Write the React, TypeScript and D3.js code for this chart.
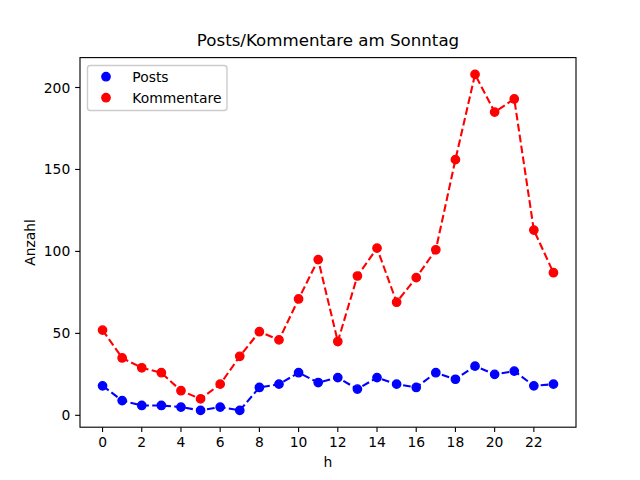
import React from "react";
import * as d3 from "d3";

const hours: number[] = Array.from({ length: 24 }, (_, i) => i);
const posts: number[] = [18, 9, 6, 6, 5, 3, 5, 3, 17, 19, 26, 20, 23, 16, 23, 19, 17, 26, 22, 30, 25, 27, 18, 19];
const kommentare: number[] = [52, 35, 29, 26, 15, 10, 19, 36, 51, 46, 71, 95, 45, 85, 102, 69, 84, 101, 156, 208, 185, 193, 113, 87];
const xTicks: number[] = [0, 2, 4, 6, 8, 10, 12, 14, 16, 18, 20, 22];
const yTicks: number[] = [0, 50, 100, 150, 200];
const seriesNames: string[] = ["Posts", "Kommentare"];
const seriesColors: string[] = ["#0000ff", "#ff0000"];
const title = "Posts/Kommentare am Sonntag";
const xLabel = "h";
const yLabel = "Anzahl";

const W = 640, H = 480;
const L = 80, R = 576, T = 57.6, B = 427.2;
const FONT = "DejaVu Sans, sans-serif";
const PT = 100 / 72;

export default function App() {
  const allY = [...posts, ...kommentare];
  const yMin = d3.min(allY)!, yMax = d3.max(allY)!;
  const yPad = (yMax - yMin) * 0.05;
  const xMin = d3.min(hours)!, xMax = d3.max(hours)!;
  const xPad = (xMax - xMin) * 0.05;
  const x = d3.scaleLinear().domain([xMin - xPad, xMax + xPad]).range([L, R]);
  const y = d3.scaleLinear().domain([yMin - yPad, yMax + yPad]).range([B, T]);
  const line = d3.line<number>().x((_, i) => x(hours[i])).y((d) => y(d));
  const series = [posts, kommentare];
  const tickLen = 3.5 * PT;
  const tickPad = 3.5 * PT;
  const fs = 10 * PT;
  const lw = 1.5 * PT;
  const mr = 3 * PT;

  return (
    <svg width={W} height={H} style={{ position: "absolute", left: 0, top: 0, background: "#fff" }} fontFamily={FONT}>
      <rect x={0} y={0} width={W} height={H} fill="#fff" />
      {series.map((s, k) => (
        <g key={k}>
          <path d={line(s)!} fill="none" stroke={seriesColors[k]} strokeWidth={lw} strokeDasharray={`${3.7 * lw} ${1.6 * lw}`} />
          {s.map((v, i) => (
            <circle key={i} cx={x(hours[i])} cy={y(v)} r={mr} fill={seriesColors[k]} stroke={seriesColors[k]} strokeWidth={PT} />
          ))}
        </g>
      ))}
      <rect x={L} y={T} width={R - L} height={B - T} fill="none" stroke="#000" strokeWidth={0.8 * PT} />
      {xTicks.map((t) => (
        <g key={t}>
          <line x1={x(t)} x2={x(t)} y1={B} y2={B + tickLen} stroke="#000" strokeWidth={0.8 * PT} />
          <text x={x(t)} y={B + tickLen + tickPad + fs * 0.76} fontSize={fs} textAnchor="middle" fill="#000">{t}</text>
        </g>
      ))}
      {yTicks.map((t) => (
        <g key={t}>
          <line x1={L} x2={L - tickLen} y1={y(t)} y2={y(t)} stroke="#000" strokeWidth={0.8 * PT} />
          <text x={L - tickLen - tickPad} y={y(t) + fs * 0.36} fontSize={fs} textAnchor="end" fill="#000">{t}</text>
        </g>
      ))}
      <text x={(L + R) / 2} y={T - 6 * PT - 3.5} fontSize={12 * PT} textAnchor="middle" fill="#000">{title}</text>
      <text x={(L + R) / 2} y={467} fontSize={fs} textAnchor="middle" fill="#000">{xLabel}</text>
      <text transform={`translate(35,${(T + B) / 2}) rotate(-90)`} fontSize={fs} textAnchor="middle" fill="#000">{yLabel}</text>
      <g>
        <rect x={87.5} y={65.5} width={139.5} height={45} rx={2.8} fill="#fff" fillOpacity={0.8} stroke="#cccccc" strokeWidth={PT} />
        {seriesNames.map((n, k) => (
          <g key={n}>
            <circle cx={106} cy={76.7 + k * 21} r={mr} fill={seriesColors[k]} stroke={seriesColors[k]} strokeWidth={PT} />
            <text x={132.3} y={76.7 + k * 21 + fs * 0.36} fontSize={fs} fill="#000">{n}</text>
          </g>
        ))}
      </g>
    </svg>
  );
}
